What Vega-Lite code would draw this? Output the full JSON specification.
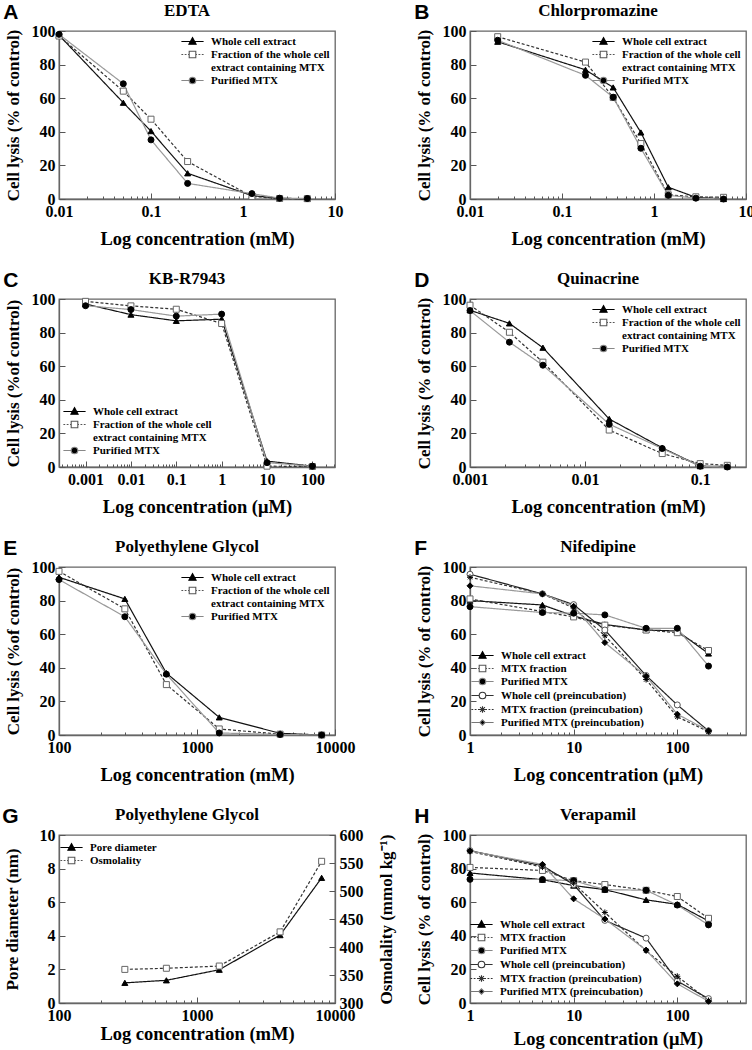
{
"$schema": "https://vega.github.io/schema/vega-lite/v6.json",
"padding": {"left": 2, "top": 1, "right": 2, "bottom": 0},
"datasets": {
 "A": [
  {"conc": 0.01, "value": 97.5, "series": "Whole cell extract"},
  {"conc": 0.05, "value": 57.3, "series": "Whole cell extract"},
  {"conc": 0.1, "value": 40.4, "series": "Whole cell extract"},
  {"conc": 0.25, "value": 15.3, "series": "Whole cell extract"},
  {"conc": 1.25, "value": 2, "series": "Whole cell extract"},
  {"conc": 2.5, "value": 0.4, "series": "Whole cell extract"},
  {"conc": 5, "value": 0.2, "series": "Whole cell extract"},
  {"conc": 0.01, "value": 97, "series": "Fraction of the whole cell extract containing MTX"},
  {"conc": 0.05, "value": 64.2, "series": "Fraction of the whole cell extract containing MTX"},
  {"conc": 0.1, "value": 47.5, "series": "Fraction of the whole cell extract containing MTX"},
  {"conc": 0.25, "value": 22.3, "series": "Fraction of the whole cell extract containing MTX"},
  {"conc": 1.25, "value": 1.5, "series": "Fraction of the whole cell extract containing MTX"},
  {"conc": 2.5, "value": 0.3, "series": "Fraction of the whole cell extract containing MTX"},
  {"conc": 5, "value": 0.2, "series": "Fraction of the whole cell extract containing MTX"},
  {"conc": 0.01, "value": 98, "series": "Purified MTX"},
  {"conc": 0.05, "value": 68.6, "series": "Purified MTX"},
  {"conc": 0.1, "value": 35.2, "series": "Purified MTX"},
  {"conc": 0.25, "value": 9.3, "series": "Purified MTX"},
  {"conc": 1.25, "value": 3.2, "series": "Purified MTX"},
  {"conc": 2.5, "value": 0.5, "series": "Purified MTX"},
  {"conc": 5, "value": 0.3, "series": "Purified MTX"}
 ],
 "B": [
  {"conc": 0.02, "value": 93.6, "series": "Whole cell extract"},
  {"conc": 0.18, "value": 76.9, "series": "Whole cell extract"},
  {"conc": 0.36, "value": 66.4, "series": "Whole cell extract"},
  {"conc": 0.72, "value": 39.6, "series": "Whole cell extract"},
  {"conc": 1.43, "value": 7, "series": "Whole cell extract"},
  {"conc": 2.85, "value": 1, "series": "Whole cell extract"},
  {"conc": 5.7, "value": 0, "series": "Whole cell extract"},
  {"conc": 0.02, "value": 96.6, "series": "Fraction of the whole cell extract containing MTX"},
  {"conc": 0.18, "value": 81.5, "series": "Fraction of the whole cell extract containing MTX"},
  {"conc": 0.36, "value": 60.4, "series": "Fraction of the whole cell extract containing MTX"},
  {"conc": 0.72, "value": 33, "series": "Fraction of the whole cell extract containing MTX"},
  {"conc": 1.43, "value": 2.5, "series": "Fraction of the whole cell extract containing MTX"},
  {"conc": 2.85, "value": 1.3, "series": "Fraction of the whole cell extract containing MTX"},
  {"conc": 5.7, "value": 1, "series": "Fraction of the whole cell extract containing MTX"},
  {"conc": 0.02, "value": 94.5, "series": "Purified MTX"},
  {"conc": 0.18, "value": 73.6, "series": "Purified MTX"},
  {"conc": 0.36, "value": 60.6, "series": "Purified MTX"},
  {"conc": 0.72, "value": 30.2, "series": "Purified MTX"},
  {"conc": 1.43, "value": 2.2, "series": "Purified MTX"},
  {"conc": 2.85, "value": 0.5, "series": "Purified MTX"},
  {"conc": 5.7, "value": 0, "series": "Purified MTX"}
 ],
 "C": [
  {"conc": 0.001, "value": 97, "series": "Whole cell extract"},
  {"conc": 0.01, "value": 90.7, "series": "Whole cell extract"},
  {"conc": 0.1, "value": 87, "series": "Whole cell extract"},
  {"conc": 1, "value": 88, "series": "Whole cell extract"},
  {"conc": 10, "value": 3.5, "series": "Whole cell extract"},
  {"conc": 100, "value": 0.5, "series": "Whole cell extract"},
  {"conc": 0.001, "value": 98.6, "series": "Fraction of the whole cell extract containing MTX"},
  {"conc": 0.01, "value": 95.9, "series": "Fraction of the whole cell extract containing MTX"},
  {"conc": 0.1, "value": 93.9, "series": "Fraction of the whole cell extract containing MTX"},
  {"conc": 1, "value": 85.4, "series": "Fraction of the whole cell extract containing MTX"},
  {"conc": 10, "value": 0.5, "series": "Fraction of the whole cell extract containing MTX"},
  {"conc": 100, "value": 0.3, "series": "Fraction of the whole cell extract containing MTX"},
  {"conc": 0.001, "value": 96, "series": "Purified MTX"},
  {"conc": 0.01, "value": 93.7, "series": "Purified MTX"},
  {"conc": 0.1, "value": 89.8, "series": "Purified MTX"},
  {"conc": 1, "value": 91, "series": "Purified MTX"},
  {"conc": 10, "value": 2.6, "series": "Purified MTX"},
  {"conc": 100, "value": 0.5, "series": "Purified MTX"}
 ],
 "D": [
  {"conc": 0.001, "value": 93.3, "series": "Whole cell extract"},
  {"conc": 0.0022, "value": 85.5, "series": "Whole cell extract"},
  {"conc": 0.0043, "value": 71, "series": "Whole cell extract"},
  {"conc": 0.0162, "value": 28.6, "series": "Whole cell extract"},
  {"conc": 0.0468, "value": 11.4, "series": "Whole cell extract"},
  {"conc": 0.1, "value": 0.5, "series": "Whole cell extract"},
  {"conc": 0.172, "value": 0.3, "series": "Whole cell extract"},
  {"conc": 0.001, "value": 96.3, "series": "Fraction of the whole cell extract containing MTX"},
  {"conc": 0.0022, "value": 80.2, "series": "Fraction of the whole cell extract containing MTX"},
  {"conc": 0.0043, "value": 62.4, "series": "Fraction of the whole cell extract containing MTX"},
  {"conc": 0.0162, "value": 22, "series": "Fraction of the whole cell extract containing MTX"},
  {"conc": 0.0468, "value": 8, "series": "Fraction of the whole cell extract containing MTX"},
  {"conc": 0.1, "value": 2, "series": "Fraction of the whole cell extract containing MTX"},
  {"conc": 0.172, "value": 1, "series": "Fraction of the whole cell extract containing MTX"},
  {"conc": 0.001, "value": 93.1, "series": "Purified MTX"},
  {"conc": 0.0022, "value": 74.3, "series": "Purified MTX"},
  {"conc": 0.0043, "value": 60.6, "series": "Purified MTX"},
  {"conc": 0.0162, "value": 25.5, "series": "Purified MTX"},
  {"conc": 0.0468, "value": 11, "series": "Purified MTX"},
  {"conc": 0.1, "value": 0.5, "series": "Purified MTX"},
  {"conc": 0.172, "value": 0, "series": "Purified MTX"}
 ],
 "E": [
  {"conc": 100, "value": 93.9, "series": "Whole cell extract"},
  {"conc": 300, "value": 81, "series": "Whole cell extract"},
  {"conc": 600, "value": 36.8, "series": "Whole cell extract"},
  {"conc": 1450, "value": 10.5, "series": "Whole cell extract"},
  {"conc": 4000, "value": 1, "series": "Whole cell extract"},
  {"conc": 8000, "value": 0, "series": "Whole cell extract"},
  {"conc": 100, "value": 97.4, "series": "Fraction of the whole cell extract containing MTX"},
  {"conc": 300, "value": 75.1, "series": "Fraction of the whole cell extract containing MTX"},
  {"conc": 600, "value": 30, "series": "Fraction of the whole cell extract containing MTX"},
  {"conc": 1450, "value": 3.6, "series": "Fraction of the whole cell extract containing MTX"},
  {"conc": 4000, "value": 0.5, "series": "Fraction of the whole cell extract containing MTX"},
  {"conc": 8000, "value": 0, "series": "Fraction of the whole cell extract containing MTX"},
  {"conc": 100, "value": 92.5, "series": "Purified MTX"},
  {"conc": 300, "value": 70.4, "series": "Purified MTX"},
  {"conc": 600, "value": 36.2, "series": "Purified MTX"},
  {"conc": 1450, "value": 1.2, "series": "Purified MTX"},
  {"conc": 4000, "value": 0.3, "series": "Purified MTX"},
  {"conc": 8000, "value": 0, "series": "Purified MTX"}
 ],
 "F": [
  {"conc": 1, "value": 80, "series": "Whole cell extract"},
  {"conc": 5, "value": 77.4, "series": "Whole cell extract"},
  {"conc": 10, "value": 70.9, "series": "Whole cell extract"},
  {"conc": 20, "value": 65.8, "series": "Whole cell extract"},
  {"conc": 50, "value": 62.5, "series": "Whole cell extract"},
  {"conc": 100, "value": 61.9, "series": "Whole cell extract"},
  {"conc": 200, "value": 48.5, "series": "Whole cell extract"},
  {"conc": 1, "value": 81, "series": "MTX fraction"},
  {"conc": 5, "value": 73.5, "series": "MTX fraction"},
  {"conc": 10, "value": 70.3, "series": "MTX fraction"},
  {"conc": 20, "value": 65.4, "series": "MTX fraction"},
  {"conc": 50, "value": 62.5, "series": "MTX fraction"},
  {"conc": 100, "value": 60.9, "series": "MTX fraction"},
  {"conc": 200, "value": 50.3, "series": "MTX fraction"},
  {"conc": 1, "value": 76.4, "series": "Purified MTX"},
  {"conc": 5, "value": 72.9, "series": "Purified MTX"},
  {"conc": 10, "value": 72.5, "series": "Purified MTX"},
  {"conc": 20, "value": 71.5, "series": "Purified MTX"},
  {"conc": 50, "value": 63.5, "series": "Purified MTX"},
  {"conc": 100, "value": 63.5, "series": "Purified MTX"},
  {"conc": 200, "value": 41, "series": "Purified MTX"},
  {"conc": 1, "value": 95.7, "series": "Whole cell (preincubation)"},
  {"conc": 5, "value": 84, "series": "Whole cell (preincubation)"},
  {"conc": 10, "value": 77.6, "series": "Whole cell (preincubation)"},
  {"conc": 20, "value": 62.5, "series": "Whole cell (preincubation)"},
  {"conc": 50, "value": 35.4, "series": "Whole cell (preincubation)"},
  {"conc": 100, "value": 17.9, "series": "Whole cell (preincubation)"},
  {"conc": 200, "value": 2.5, "series": "Whole cell (preincubation)"},
  {"conc": 1, "value": 93.9, "series": "MTX fraction (preincubation)"},
  {"conc": 5, "value": 84, "series": "MTX fraction (preincubation)"},
  {"conc": 10, "value": 75.5, "series": "MTX fraction (preincubation)"},
  {"conc": 20, "value": 59.1, "series": "MTX fraction (preincubation)"},
  {"conc": 50, "value": 33, "series": "MTX fraction (preincubation)"},
  {"conc": 100, "value": 10.8, "series": "MTX fraction (preincubation)"},
  {"conc": 200, "value": 2, "series": "MTX fraction (preincubation)"},
  {"conc": 1, "value": 88.8, "series": "Purified MTX (preincubation)"},
  {"conc": 5, "value": 84, "series": "Purified MTX (preincubation)"},
  {"conc": 10, "value": 76.6, "series": "Purified MTX (preincubation)"},
  {"conc": 20, "value": 55, "series": "Purified MTX (preincubation)"},
  {"conc": 50, "value": 35, "series": "Purified MTX (preincubation)"},
  {"conc": 100, "value": 12.4, "series": "Purified MTX (preincubation)"},
  {"conc": 200, "value": 2.5, "series": "Purified MTX (preincubation)"}
 ],
 "G": [
  {"conc": 300, "value": 1.2, "series": "Pore diameter"},
  {"conc": 600, "value": 1.35, "series": "Pore diameter"},
  {"conc": 1450, "value": 1.98, "series": "Pore diameter"},
  {"conc": 4000, "value": 4.04, "series": "Pore diameter"},
  {"conc": 8000, "value": 7.45, "series": "Pore diameter"},
  {"conc": 300, "value": 360, "series": "Osmolality"},
  {"conc": 600, "value": 362, "series": "Osmolality"},
  {"conc": 1450, "value": 366, "series": "Osmolality"},
  {"conc": 4000, "value": 427, "series": "Osmolality"},
  {"conc": 8000, "value": 553, "series": "Osmolality"}
 ],
 "H": [
  {"conc": 1, "value": 77.4, "series": "Whole cell extract"},
  {"conc": 5, "value": 73.4, "series": "Whole cell extract"},
  {"conc": 10, "value": 69.9, "series": "Whole cell extract"},
  {"conc": 20, "value": 67.5, "series": "Whole cell extract"},
  {"conc": 50, "value": 61.4, "series": "Whole cell extract"},
  {"conc": 100, "value": 58.7, "series": "Whole cell extract"},
  {"conc": 200, "value": 48.8, "series": "Whole cell extract"},
  {"conc": 1, "value": 80.7, "series": "MTX fraction"},
  {"conc": 5, "value": 78.9, "series": "MTX fraction"},
  {"conc": 10, "value": 72.8, "series": "MTX fraction"},
  {"conc": 20, "value": 70.5, "series": "MTX fraction"},
  {"conc": 50, "value": 67.1, "series": "MTX fraction"},
  {"conc": 100, "value": 63.4, "series": "MTX fraction"},
  {"conc": 200, "value": 50.4, "series": "MTX fraction"},
  {"conc": 1, "value": 73.6, "series": "Purified MTX"},
  {"conc": 5, "value": 73.5, "series": "Purified MTX"},
  {"conc": 10, "value": 72.8, "series": "Purified MTX"},
  {"conc": 20, "value": 67.5, "series": "Purified MTX"},
  {"conc": 50, "value": 67.1, "series": "Purified MTX"},
  {"conc": 100, "value": 58.3, "series": "Purified MTX"},
  {"conc": 200, "value": 46.5, "series": "Purified MTX"},
  {"conc": 1, "value": 90.7, "series": "Whole cell (preincubation)"},
  {"conc": 5, "value": 81.7, "series": "Whole cell (preincubation)"},
  {"conc": 10, "value": 70.5, "series": "Whole cell (preincubation)"},
  {"conc": 20, "value": 49.2, "series": "Whole cell (preincubation)"},
  {"conc": 50, "value": 38.6, "series": "Whole cell (preincubation)"},
  {"conc": 100, "value": 13, "series": "Whole cell (preincubation)"},
  {"conc": 200, "value": 2.6, "series": "Whole cell (preincubation)"},
  {"conc": 1, "value": 90.2, "series": "MTX fraction (preincubation)"},
  {"conc": 5, "value": 80.9, "series": "MTX fraction (preincubation)"},
  {"conc": 10, "value": 71.3, "series": "MTX fraction (preincubation)"},
  {"conc": 20, "value": 53.9, "series": "MTX fraction (preincubation)"},
  {"conc": 50, "value": 31.1, "series": "MTX fraction (preincubation)"},
  {"conc": 100, "value": 15.9, "series": "MTX fraction (preincubation)"},
  {"conc": 200, "value": 1.5, "series": "MTX fraction (preincubation)"},
  {"conc": 1, "value": 90.5, "series": "Purified MTX (preincubation)"},
  {"conc": 5, "value": 82.5, "series": "Purified MTX (preincubation)"},
  {"conc": 10, "value": 62, "series": "Purified MTX (preincubation)"},
  {"conc": 20, "value": 50, "series": "Purified MTX (preincubation)"},
  {"conc": 50, "value": 31.5, "series": "Purified MTX (preincubation)"},
  {"conc": 100, "value": 11.4, "series": "Purified MTX (preincubation)"},
  {"conc": 200, "value": 1, "series": "Purified MTX (preincubation)"}
 ]
},
"columns": 2,
"spacing": {"row": 20, "column": 19},
"resolve": {"scale": {"x": "independent", "y": "independent", "color": "independent", "strokeDash": "independent", "shape": "independent", "fill": "independent", "stroke": "independent"}, "legend": {"color": "independent", "strokeDash": "independent", "shape": "independent", "fill": "independent", "stroke": "independent"}},
"concat": [
 {"title": {"text": "A", "anchor": "start", "frame": "bounds", "font": "Liberation Sans", "fontSize": 21, "fontWeight": "bold", "offset": -22, "dx": 0},
  "resolve": {"legend": {"shape": "independent", "fill": "independent", "stroke": "independent"}},
  "vconcat": [{
   "title": {"text": "EDTA"}, "width": 276, "height": 168, "data": {"name": "A"},
   "resolve": {"scale": {"shape": "independent", "fill": "independent", "stroke": "independent"}},
   "encoding": {
    "x": {"field": "conc", "type": "quantitative", "scale": {"type": "log", "domain": [0.01, 10], "nice": false},
     "axis": {"title": "Log concentration (mM)", "format": "~g", "values": [0.01,0.02,0.03,0.04,0.05,0.06,0.07,0.08,0.09,0.1,0.2,0.3,0.4,0.5,0.6,0.7,0.8,0.9,1,2,3,4,5,6,7,8,9,10],
      "labelExpr": "abs(log(datum.value)/LN10 - round(log(datum.value)/LN10)) < 0.001 ? datum.label : ''",
      "tickSize": {"condition": {"test": "abs(log(datum.value)/LN10 - round(log(datum.value)/LN10)) < 0.001", "value": -6}, "value": -3}}},
    "y": {"field": "value", "type": "quantitative", "scale": {"domain": [0, 100], "nice": false}, "axis": {"title": "Cell lysis (% of control)", "values": [0,20,40,60,80,100]}}
   },
   "layer": [
    {"mark": {"type": "line", "strokeWidth": 1.2}, "encoding": {
     "color": {"field": "series", "type": "nominal", "scale": {"domain": ["Whole cell extract","Fraction of the whole cell extract containing MTX","Purified MTX"], "range": ["#111","#333","#999"]}, "legend": null},
     "strokeDash": {"field": "series", "type": "nominal", "scale": {"domain": ["Whole cell extract","Fraction of the whole cell extract containing MTX","Purified MTX"], "range": [[1,0],[3,2],[1,0]]}, "legend": null}}},
    {"mark": {"type": "point", "filled": true, "size": 36, "strokeWidth": 1, "opacity": 1}, "encoding": {
     "shape": {"field": "series", "type": "nominal", "scale": {"domain": ["Whole cell extract","Fraction of the whole cell extract containing MTX","Purified MTX"], "range": ["triangle-up","square","circle"]}, "legend": null},
     "fill": {"field": "series", "type": "nominal", "scale": {"domain": ["Whole cell extract","Fraction of the whole cell extract containing MTX","Purified MTX"], "range": ["#000","#fff","#000"]}, "legend": null},
     "stroke": {"field": "series", "type": "nominal", "scale": {"domain": ["Whole cell extract","Fraction of the whole cell extract containing MTX","Purified MTX"], "range": ["#000","#666","#000"]}, "legend": null}}},
    {"mark": {"type": "point", "filled": true, "opacity": 0, "strokeWidth": 1.1}, "encoding": {
     "shape": {"field": "series", "type": "nominal", "scale": {"domain": ["Whole cell extract","Fraction of the whole cell extract containing MTX","Purified MTX"], "range": ["M-3.7,0H3.7M0,-1.3L1.2,0.9L-1.2,0.9Z","M-3.7,0H-3.1M-2.6,0H-2M-1.5,0H-1.1M1.1,0H1.5M2,0H2.6M3.1,0H3.7M-1.1,-1.1H1.1V1.1H-1.1Z","M-3.7,0H-1.1M1.1,0H3.7M1.1,0A1.1,1.1,0,1,1,-1.1,0A1.1,1.1,0,1,1,1.1,0Z"]},
      "legend": {"title": null, "orient": "top-right", "offset": 5, "symbolOpacity": 1, "labelExpr": "datum.label == 'Fraction of the whole cell extract containing MTX' ? ['Fraction of the whole cell', 'extract containing MTX'] : datum.label", "encode": {"labels": {"update": {"lineHeight": {"value": 10.5}}}}}},
     "fill": {"field": "series", "type": "nominal", "scale": {"domain": ["Whole cell extract","Fraction of the whole cell extract containing MTX","Purified MTX"], "range": ["#000","#fff","#000"]}},
     "stroke": {"field": "series", "type": "nominal", "scale": {"domain": ["Whole cell extract","Fraction of the whole cell extract containing MTX","Purified MTX"], "range": ["#000","#555","#888"]}}}}
   ]
  }]
 },
 {"title": {"text": "B", "anchor": "start", "frame": "bounds", "font": "Liberation Sans", "fontSize": 21, "fontWeight": "bold", "offset": -22, "dx": 0},
  "resolve": {"legend": {"shape": "independent", "fill": "independent", "stroke": "independent"}},
  "vconcat": [{
   "title": {"text": "Chlorpromazine"}, "width": 276, "height": 168, "data": {"name": "B"},
   "resolve": {"scale": {"shape": "independent", "fill": "independent", "stroke": "independent"}},
   "encoding": {
    "x": {"field": "conc", "type": "quantitative", "scale": {"type": "log", "domain": [0.01, 10], "nice": false},
     "axis": {"title": "Log concentration (mM)", "format": "~g", "values": [0.01,0.02,0.03,0.04,0.05,0.06,0.07,0.08,0.09,0.1,0.2,0.3,0.4,0.5,0.6,0.7,0.8,0.9,1,2,3,4,5,6,7,8,9,10],
      "labelExpr": "abs(log(datum.value)/LN10 - round(log(datum.value)/LN10)) < 0.001 ? datum.label : ''",
      "tickSize": {"condition": {"test": "abs(log(datum.value)/LN10 - round(log(datum.value)/LN10)) < 0.001", "value": -6}, "value": -3}}},
    "y": {"field": "value", "type": "quantitative", "scale": {"domain": [0, 100], "nice": false}, "axis": {"title": "Cell lysis (% of control)", "values": [0,20,40,60,80,100]}}
   },
   "layer": [
    {"mark": {"type": "line", "strokeWidth": 1.2}, "encoding": {
     "color": {"field": "series", "type": "nominal", "scale": {"domain": ["Whole cell extract","Fraction of the whole cell extract containing MTX","Purified MTX"], "range": ["#111","#333","#999"]}, "legend": null},
     "strokeDash": {"field": "series", "type": "nominal", "scale": {"domain": ["Whole cell extract","Fraction of the whole cell extract containing MTX","Purified MTX"], "range": [[1,0],[3,2],[1,0]]}, "legend": null}}},
    {"mark": {"type": "point", "filled": true, "size": 36, "strokeWidth": 1, "opacity": 1}, "encoding": {
     "shape": {"field": "series", "type": "nominal", "scale": {"domain": ["Whole cell extract","Fraction of the whole cell extract containing MTX","Purified MTX"], "range": ["triangle-up","square","circle"]}, "legend": null},
     "fill": {"field": "series", "type": "nominal", "scale": {"domain": ["Whole cell extract","Fraction of the whole cell extract containing MTX","Purified MTX"], "range": ["#000","#fff","#000"]}, "legend": null},
     "stroke": {"field": "series", "type": "nominal", "scale": {"domain": ["Whole cell extract","Fraction of the whole cell extract containing MTX","Purified MTX"], "range": ["#000","#666","#000"]}, "legend": null}}},
    {"mark": {"type": "point", "filled": true, "opacity": 0, "strokeWidth": 1.1}, "encoding": {
     "shape": {"field": "series", "type": "nominal", "scale": {"domain": ["Whole cell extract","Fraction of the whole cell extract containing MTX","Purified MTX"], "range": ["M-3.7,0H3.7M0,-1.3L1.2,0.9L-1.2,0.9Z","M-3.7,0H-3.1M-2.6,0H-2M-1.5,0H-1.1M1.1,0H1.5M2,0H2.6M3.1,0H3.7M-1.1,-1.1H1.1V1.1H-1.1Z","M-3.7,0H-1.1M1.1,0H3.7M1.1,0A1.1,1.1,0,1,1,-1.1,0A1.1,1.1,0,1,1,1.1,0Z"]},
      "legend": {"title": null, "orient": "top-right", "offset": 5, "symbolOpacity": 1, "labelExpr": "datum.label == 'Fraction of the whole cell extract containing MTX' ? ['Fraction of the whole cell', 'extract containing MTX'] : datum.label", "encode": {"labels": {"update": {"lineHeight": {"value": 10.5}}}}}},
     "fill": {"field": "series", "type": "nominal", "scale": {"domain": ["Whole cell extract","Fraction of the whole cell extract containing MTX","Purified MTX"], "range": ["#000","#fff","#000"]}},
     "stroke": {"field": "series", "type": "nominal", "scale": {"domain": ["Whole cell extract","Fraction of the whole cell extract containing MTX","Purified MTX"], "range": ["#000","#555","#888"]}}}}
   ]
  }]
 },
 {"title": {"text": "C", "anchor": "start", "frame": "bounds", "font": "Liberation Sans", "fontSize": 21, "fontWeight": "bold", "offset": -22, "dx": 0},
  "resolve": {"legend": {"shape": "independent", "fill": "independent", "stroke": "independent"}},
  "vconcat": [{
   "title": {"text": "KB-R7943"}, "width": 276, "height": 168, "data": {"name": "C"},
   "resolve": {"scale": {"shape": "independent", "fill": "independent", "stroke": "independent"}},
   "encoding": {
    "x": {"field": "conc", "type": "quantitative", "scale": {"type": "log", "domain": [0.00026, 315], "nice": false},
     "axis": {"title": "Log concentration (μM)", "format": "~g", "values": [0.0003,0.0004,0.0005,0.0006,0.0007,0.0008,0.0009,0.001,0.002,0.003,0.004,0.005,0.006,0.007,0.008,0.009,0.01,0.02,0.03,0.04,0.05,0.06,0.07,0.08,0.09,0.1,0.2,0.3,0.4,0.5,0.6,0.7,0.8,0.9,1,2,3,4,5,6,7,8,9,10,20,30,40,50,60,70,80,90,100,200,300],
      "labelExpr": "abs(log(datum.value)/LN10 - round(log(datum.value)/LN10)) < 0.001 ? datum.label : ''",
      "tickSize": {"condition": {"test": "abs(log(datum.value)/LN10 - round(log(datum.value)/LN10)) < 0.001", "value": -6}, "value": -3}}},
    "y": {"field": "value", "type": "quantitative", "scale": {"domain": [0, 100], "nice": false}, "axis": {"title": "Cell lysis (%of control)", "values": [0,20,40,60,80,100]}}
   },
   "layer": [
    {"mark": {"type": "line", "strokeWidth": 1.2}, "encoding": {
     "color": {"field": "series", "type": "nominal", "scale": {"domain": ["Whole cell extract","Fraction of the whole cell extract containing MTX","Purified MTX"], "range": ["#111","#333","#999"]}, "legend": null},
     "strokeDash": {"field": "series", "type": "nominal", "scale": {"domain": ["Whole cell extract","Fraction of the whole cell extract containing MTX","Purified MTX"], "range": [[1,0],[3,2],[1,0]]}, "legend": null}}},
    {"mark": {"type": "point", "filled": true, "size": 36, "strokeWidth": 1, "opacity": 1}, "encoding": {
     "shape": {"field": "series", "type": "nominal", "scale": {"domain": ["Whole cell extract","Fraction of the whole cell extract containing MTX","Purified MTX"], "range": ["triangle-up","square","circle"]}, "legend": null},
     "fill": {"field": "series", "type": "nominal", "scale": {"domain": ["Whole cell extract","Fraction of the whole cell extract containing MTX","Purified MTX"], "range": ["#000","#fff","#000"]}, "legend": null},
     "stroke": {"field": "series", "type": "nominal", "scale": {"domain": ["Whole cell extract","Fraction of the whole cell extract containing MTX","Purified MTX"], "range": ["#000","#666","#000"]}, "legend": null}}},
    {"mark": {"type": "point", "filled": true, "opacity": 0, "strokeWidth": 1.1}, "encoding": {
     "shape": {"field": "series", "type": "nominal", "scale": {"domain": ["Whole cell extract","Fraction of the whole cell extract containing MTX","Purified MTX"], "range": ["M-3.7,0H3.7M0,-1.3L1.2,0.9L-1.2,0.9Z","M-3.7,0H-3.1M-2.6,0H-2M-1.5,0H-1.1M1.1,0H1.5M2,0H2.6M3.1,0H3.7M-1.1,-1.1H1.1V1.1H-1.1Z","M-3.7,0H-1.1M1.1,0H3.7M1.1,0A1.1,1.1,0,1,1,-1.1,0A1.1,1.1,0,1,1,1.1,0Z"]},
      "legend": {"title": null, "orient": "bottom-left", "offset": 10, "symbolOpacity": 1, "labelExpr": "datum.label == 'Fraction of the whole cell extract containing MTX' ? ['Fraction of the whole cell', 'extract containing MTX'] : datum.label", "encode": {"labels": {"update": {"lineHeight": {"value": 10.5}}}}}},
     "fill": {"field": "series", "type": "nominal", "scale": {"domain": ["Whole cell extract","Fraction of the whole cell extract containing MTX","Purified MTX"], "range": ["#000","#fff","#000"]}},
     "stroke": {"field": "series", "type": "nominal", "scale": {"domain": ["Whole cell extract","Fraction of the whole cell extract containing MTX","Purified MTX"], "range": ["#000","#555","#888"]}}}}
   ]
  }]
 },
 {"title": {"text": "D", "anchor": "start", "frame": "bounds", "font": "Liberation Sans", "fontSize": 21, "fontWeight": "bold", "offset": -22, "dx": 0},
  "resolve": {"legend": {"shape": "independent", "fill": "independent", "stroke": "independent"}},
  "vconcat": [{
   "title": {"text": "Quinacrine"}, "width": 276, "height": 168, "data": {"name": "D"},
   "resolve": {"scale": {"shape": "independent", "fill": "independent", "stroke": "independent"}},
   "encoding": {
    "x": {"field": "conc", "type": "quantitative", "scale": {"type": "log", "domain": [0.001, 0.25], "nice": false},
     "axis": {"title": "Log concentration (mM)", "format": "~g", "values": [0.001,0.002,0.003,0.004,0.005,0.006,0.007,0.008,0.009,0.01,0.02,0.03,0.04,0.05,0.06,0.07,0.08,0.09,0.1,0.2],
      "labelExpr": "abs(log(datum.value)/LN10 - round(log(datum.value)/LN10)) < 0.001 ? datum.label : ''",
      "tickSize": {"condition": {"test": "abs(log(datum.value)/LN10 - round(log(datum.value)/LN10)) < 0.001", "value": -6}, "value": -3}}},
    "y": {"field": "value", "type": "quantitative", "scale": {"domain": [0, 100], "nice": false}, "axis": {"title": "Cell lysis (% of control)", "values": [0,20,40,60,80,100]}}
   },
   "layer": [
    {"mark": {"type": "line", "strokeWidth": 1.2}, "encoding": {
     "color": {"field": "series", "type": "nominal", "scale": {"domain": ["Whole cell extract","Fraction of the whole cell extract containing MTX","Purified MTX"], "range": ["#111","#333","#999"]}, "legend": null},
     "strokeDash": {"field": "series", "type": "nominal", "scale": {"domain": ["Whole cell extract","Fraction of the whole cell extract containing MTX","Purified MTX"], "range": [[1,0],[3,2],[1,0]]}, "legend": null}}},
    {"mark": {"type": "point", "filled": true, "size": 36, "strokeWidth": 1, "opacity": 1}, "encoding": {
     "shape": {"field": "series", "type": "nominal", "scale": {"domain": ["Whole cell extract","Fraction of the whole cell extract containing MTX","Purified MTX"], "range": ["triangle-up","square","circle"]}, "legend": null},
     "fill": {"field": "series", "type": "nominal", "scale": {"domain": ["Whole cell extract","Fraction of the whole cell extract containing MTX","Purified MTX"], "range": ["#000","#fff","#000"]}, "legend": null},
     "stroke": {"field": "series", "type": "nominal", "scale": {"domain": ["Whole cell extract","Fraction of the whole cell extract containing MTX","Purified MTX"], "range": ["#000","#666","#000"]}, "legend": null}}},
    {"mark": {"type": "point", "filled": true, "opacity": 0, "strokeWidth": 1.1}, "encoding": {
     "shape": {"field": "series", "type": "nominal", "scale": {"domain": ["Whole cell extract","Fraction of the whole cell extract containing MTX","Purified MTX"], "range": ["M-3.7,0H3.7M0,-1.3L1.2,0.9L-1.2,0.9Z","M-3.7,0H-3.1M-2.6,0H-2M-1.5,0H-1.1M1.1,0H1.5M2,0H2.6M3.1,0H3.7M-1.1,-1.1H1.1V1.1H-1.1Z","M-3.7,0H-1.1M1.1,0H3.7M1.1,0A1.1,1.1,0,1,1,-1.1,0A1.1,1.1,0,1,1,1.1,0Z"]},
      "legend": {"title": null, "orient": "top-right", "offset": 5, "symbolOpacity": 1, "labelExpr": "datum.label == 'Fraction of the whole cell extract containing MTX' ? ['Fraction of the whole cell', 'extract containing MTX'] : datum.label", "encode": {"labels": {"update": {"lineHeight": {"value": 10.5}}}}}},
     "fill": {"field": "series", "type": "nominal", "scale": {"domain": ["Whole cell extract","Fraction of the whole cell extract containing MTX","Purified MTX"], "range": ["#000","#fff","#000"]}},
     "stroke": {"field": "series", "type": "nominal", "scale": {"domain": ["Whole cell extract","Fraction of the whole cell extract containing MTX","Purified MTX"], "range": ["#000","#555","#888"]}}}}
   ]
  }]
 },
 {"title": {"text": "E", "anchor": "start", "frame": "bounds", "font": "Liberation Sans", "fontSize": 21, "fontWeight": "bold", "offset": -22, "dx": 0},
  "resolve": {"legend": {"shape": "independent", "fill": "independent", "stroke": "independent"}},
  "vconcat": [{
   "title": {"text": "Polyethylene Glycol"}, "width": 276, "height": 168, "data": {"name": "E"},
   "resolve": {"scale": {"shape": "independent", "fill": "independent", "stroke": "independent"}},
   "encoding": {
    "x": {"field": "conc", "type": "quantitative", "scale": {"type": "log", "domain": [100, 10000], "nice": false},
     "axis": {"title": "Log concentration (mM)", "format": "~g", "values": [100,200,300,400,500,600,700,800,900,1000,2000,3000,4000,5000,6000,7000,8000,9000,10000],
      "labelExpr": "abs(log(datum.value)/LN10 - round(log(datum.value)/LN10)) < 0.001 ? datum.label : ''",
      "tickSize": {"condition": {"test": "abs(log(datum.value)/LN10 - round(log(datum.value)/LN10)) < 0.001", "value": -6}, "value": -3}}},
    "y": {"field": "value", "type": "quantitative", "scale": {"domain": [0, 100], "nice": false}, "axis": {"title": "Cell lysis (%of control)", "values": [0,20,40,60,80,100]}}
   },
   "layer": [
    {"mark": {"type": "line", "strokeWidth": 1.2}, "encoding": {
     "color": {"field": "series", "type": "nominal", "scale": {"domain": ["Whole cell extract","Fraction of the whole cell extract containing MTX","Purified MTX"], "range": ["#111","#333","#999"]}, "legend": null},
     "strokeDash": {"field": "series", "type": "nominal", "scale": {"domain": ["Whole cell extract","Fraction of the whole cell extract containing MTX","Purified MTX"], "range": [[1,0],[3,2],[1,0]]}, "legend": null}}},
    {"mark": {"type": "point", "filled": true, "size": 36, "strokeWidth": 1, "opacity": 1}, "encoding": {
     "shape": {"field": "series", "type": "nominal", "scale": {"domain": ["Whole cell extract","Fraction of the whole cell extract containing MTX","Purified MTX"], "range": ["triangle-up","square","circle"]}, "legend": null},
     "fill": {"field": "series", "type": "nominal", "scale": {"domain": ["Whole cell extract","Fraction of the whole cell extract containing MTX","Purified MTX"], "range": ["#000","#fff","#000"]}, "legend": null},
     "stroke": {"field": "series", "type": "nominal", "scale": {"domain": ["Whole cell extract","Fraction of the whole cell extract containing MTX","Purified MTX"], "range": ["#000","#666","#000"]}, "legend": null}}},
    {"mark": {"type": "point", "filled": true, "opacity": 0, "strokeWidth": 1.1}, "encoding": {
     "shape": {"field": "series", "type": "nominal", "scale": {"domain": ["Whole cell extract","Fraction of the whole cell extract containing MTX","Purified MTX"], "range": ["M-3.7,0H3.7M0,-1.3L1.2,0.9L-1.2,0.9Z","M-3.7,0H-3.1M-2.6,0H-2M-1.5,0H-1.1M1.1,0H1.5M2,0H2.6M3.1,0H3.7M-1.1,-1.1H1.1V1.1H-1.1Z","M-3.7,0H-1.1M1.1,0H3.7M1.1,0A1.1,1.1,0,1,1,-1.1,0A1.1,1.1,0,1,1,1.1,0Z"]},
      "legend": {"title": null, "orient": "top-right", "offset": 5, "symbolOpacity": 1, "labelExpr": "datum.label == 'Fraction of the whole cell extract containing MTX' ? ['Fraction of the whole cell', 'extract containing MTX'] : datum.label", "encode": {"labels": {"update": {"lineHeight": {"value": 10.5}}}}}},
     "fill": {"field": "series", "type": "nominal", "scale": {"domain": ["Whole cell extract","Fraction of the whole cell extract containing MTX","Purified MTX"], "range": ["#000","#fff","#000"]}},
     "stroke": {"field": "series", "type": "nominal", "scale": {"domain": ["Whole cell extract","Fraction of the whole cell extract containing MTX","Purified MTX"], "range": ["#000","#555","#888"]}}}}
   ]
  }]
 },
 {"title": {"text": "F", "anchor": "start", "frame": "bounds", "font": "Liberation Sans", "fontSize": 21, "fontWeight": "bold", "offset": -22, "dx": 0},
  "resolve": {"legend": {"shape": "independent", "fill": "independent", "stroke": "independent"}},
  "vconcat": [{
   "title": {"text": "Nifedipine"}, "width": 276, "height": 168, "data": {"name": "F"},
   "resolve": {"scale": {"shape": "independent", "fill": "independent", "stroke": "independent"}},
   "encoding": {
    "x": {"field": "conc", "type": "quantitative", "scale": {"type": "log", "domain": [1, 460], "nice": false},
     "axis": {"title": "Log concentration (μM)", "format": "~g", "values": [1,2,3,4,5,6,7,8,9,10,20,30,40,50,60,70,80,90,100,200,300,400],
      "labelExpr": "abs(log(datum.value)/LN10 - round(log(datum.value)/LN10)) < 0.001 ? datum.label : ''",
      "tickSize": {"condition": {"test": "abs(log(datum.value)/LN10 - round(log(datum.value)/LN10)) < 0.001", "value": -6}, "value": -3}}},
    "y": {"field": "value", "type": "quantitative", "scale": {"domain": [0, 100], "nice": false}, "axis": {"title": "Cell lysis (% of control)", "values": [0,20,40,60,80,100]}}
   },
   "layer": [
    {"mark": {"type": "line", "strokeWidth": 1.2}, "encoding": {
     "color": {"field": "series", "type": "nominal", "scale": {"domain": ["Whole cell extract","MTX fraction","Purified MTX","Whole cell (preincubation)","MTX fraction (preincubation)","Purified MTX (preincubation)"], "range": ["#111","#333","#999","#222","#333","#999"]}, "legend": null},
     "strokeDash": {"field": "series", "type": "nominal", "scale": {"domain": ["Whole cell extract","MTX fraction","Purified MTX","Whole cell (preincubation)","MTX fraction (preincubation)","Purified MTX (preincubation)"], "range": [[1,0],[3,2],[1,0],[1,0],[3,2],[1,0]]}, "legend": null}}},
    {"mark": {"type": "point", "filled": true, "size": 36, "strokeWidth": 1, "opacity": 1}, "encoding": {
     "shape": {"field": "series", "type": "nominal", "scale": {"domain": ["Whole cell extract","MTX fraction","Purified MTX","Whole cell (preincubation)","MTX fraction (preincubation)","Purified MTX (preincubation)"], "range": ["triangle-up","square","circle","circle","M-1,0H1M0,-1V1M-0.7,-0.7L0.7,0.7M-0.7,0.7L0.7,-0.7","diamond"]}, "legend": null},
     "fill": {"field": "series", "type": "nominal", "scale": {"domain": ["Whole cell extract","MTX fraction","Purified MTX","Whole cell (preincubation)","MTX fraction (preincubation)","Purified MTX (preincubation)"], "range": ["#000","#fff","#000","#fff","#000","#000"]}, "legend": null},
     "stroke": {"field": "series", "type": "nominal", "scale": {"domain": ["Whole cell extract","MTX fraction","Purified MTX","Whole cell (preincubation)","MTX fraction (preincubation)","Purified MTX (preincubation)"], "range": ["#000","#666","#000","#555","#000","#000"]}, "legend": null}}},
    {"mark": {"type": "point", "filled": true, "opacity": 0, "strokeWidth": 1.1}, "encoding": {
     "shape": {"field": "series", "type": "nominal", "scale": {"domain": ["Whole cell extract","MTX fraction","Purified MTX","Whole cell (preincubation)","MTX fraction (preincubation)","Purified MTX (preincubation)"], "range": ["M-3.7,0H3.7M0,-1.3L1.2,0.9L-1.2,0.9Z","M-3.7,0H-3.1M-2.6,0H-2M-1.5,0H-1.1M1.1,0H1.5M2,0H2.6M3.1,0H3.7M-1.1,-1.1H1.1V1.1H-1.1Z","M-3.7,0H-1.1M1.1,0H3.7M1.1,0A1.1,1.1,0,1,1,-1.1,0A1.1,1.1,0,1,1,1.1,0Z","M-3.7,0H-1.1M1.1,0H3.7M1.1,0A1.1,1.1,0,1,1,-1.1,0A1.1,1.1,0,1,1,1.1,0Z","M-3.7,0H-3.1M-2.6,0H-2M-1.5,0H-1.1M1.1,0H1.5M2,0H2.6M3.1,0H3.7M-1.1,0H1.1M0,-1.1V1.1M-0.8,-0.8L0.8,0.8M-0.8,0.8L0.8,-0.8","M-3.7,0H-0.9M0.9,0H3.7M0,-0.9L0.9,0L0,0.9L-0.9,0Z"]},
      "legend": {"title": null, "orient": "bottom-left", "offset": 7, "symbolOpacity": 1}},
     "fill": {"field": "series", "type": "nominal", "scale": {"domain": ["Whole cell extract","MTX fraction","Purified MTX","Whole cell (preincubation)","MTX fraction (preincubation)","Purified MTX (preincubation)"], "range": ["#000","#fff","#000","#fff","#000","#000"]}},
     "stroke": {"field": "series", "type": "nominal", "scale": {"domain": ["Whole cell extract","MTX fraction","Purified MTX","Whole cell (preincubation)","MTX fraction (preincubation)","Purified MTX (preincubation)"], "range": ["#000","#555","#888","#333","#333","#777"]}}}}
   ]
  }]
 },
 {"title": {"text": "G", "anchor": "start", "frame": "bounds", "font": "Liberation Sans", "fontSize": 21, "fontWeight": "bold", "offset": -22, "dx": 0},
  "resolve": {"legend": {"shape": "independent", "fill": "independent", "stroke": "independent"}},
  "vconcat": [{
   "title": {"text": "Polyethylene Glycol"}, "width": 276, "height": 168, "data": {"name": "G"},
   "encoding": {
    "x": {"field": "conc", "type": "quantitative", "scale": {"type": "log", "domain": [100, 10000], "nice": false},
     "axis": {"title": "Log concentration (mM)", "titlePadding": -2, "format": "~g", "values": [100,200,300,400,500,600,700,800,900,1000,2000,3000,4000,5000,6000,7000,8000,9000,10000],
      "labelExpr": "abs(log(datum.value)/LN10 - round(log(datum.value)/LN10)) < 0.001 ? datum.label : ''",
      "tickSize": {"condition": {"test": "abs(log(datum.value)/LN10 - round(log(datum.value)/LN10)) < 0.001", "value": -6}, "value": -3}}}
   },
   "resolve": {"scale": {"y": "independent", "shape": "independent", "fill": "independent", "stroke": "independent"}},
   "layer": [
    {"transform": [{"filter": "datum.series == 'Pore diameter'"}],
     "encoding": {"y": {"field": "value", "type": "quantitative", "scale": {"domain": [0, 10], "nice": false}, "axis": {"title": "Pore diameter (nm)", "values": [0,2,4,6,8,10], "titlePadding": 18}}},
     "layer": [
      {"mark": {"type": "line", "strokeWidth": 1.2}, "encoding": {
       "color": {"field": "series", "type": "nominal", "scale": {"domain": ["Pore diameter","Osmolality"], "range": ["#111","#333"]}, "legend": null},
       "strokeDash": {"field": "series", "type": "nominal", "scale": {"domain": ["Pore diameter","Osmolality"], "range": [[1,0],[3,2]]}, "legend": null}}},
      {"mark": {"type": "point", "filled": true, "size": 36, "strokeWidth": 1, "opacity": 1}, "encoding": {
       "shape": {"field": "series", "type": "nominal", "scale": {"domain": ["Pore diameter","Osmolality"], "range": ["triangle-up","square"]}, "legend": null},
       "fill": {"field": "series", "type": "nominal", "scale": {"domain": ["Pore diameter","Osmolality"], "range": ["#000","#fff"]}, "legend": null},
       "stroke": {"field": "series", "type": "nominal", "scale": {"domain": ["Pore diameter","Osmolality"], "range": ["#000","#666"]}, "legend": null}}}
     ]},
    {"transform": [{"filter": "datum.series == 'Osmolality'"}],
     "encoding": {"y": {"field": "value", "type": "quantitative", "scale": {"domain": [300, 600], "nice": false}, "axis": {"title": "Osmolality (mmol kg⁻¹)", "orient": "right", "values": [300,350,400,450,500,550,600], "titleAngle": 270, "titleBaseline": "top", "titlePadding": 15}}},
     "layer": [
      {"mark": {"type": "line", "strokeWidth": 1.2}, "encoding": {
       "color": {"field": "series", "type": "nominal", "scale": {"domain": ["Pore diameter","Osmolality"], "range": ["#111","#333"]}, "legend": null},
       "strokeDash": {"field": "series", "type": "nominal", "scale": {"domain": ["Pore diameter","Osmolality"], "range": [[1,0],[3,2]]}, "legend": null}}},
      {"mark": {"type": "point", "filled": true, "size": 36, "strokeWidth": 1, "opacity": 1}, "encoding": {
       "shape": {"field": "series", "type": "nominal", "scale": {"domain": ["Pore diameter","Osmolality"], "range": ["triangle-up","square"]}, "legend": null},
       "fill": {"field": "series", "type": "nominal", "scale": {"domain": ["Pore diameter","Osmolality"], "range": ["#000","#fff"]}, "legend": null},
       "stroke": {"field": "series", "type": "nominal", "scale": {"domain": ["Pore diameter","Osmolality"], "range": ["#000","#666"]}, "legend": null}}}
     ]},
    {"mark": {"type": "point", "filled": true, "opacity": 0, "strokeWidth": 1.1}, "encoding": {
     "y": {"field": "value", "type": "quantitative", "axis": null},
     "shape": {"field": "series", "type": "nominal", "scale": {"domain": ["Pore diameter","Osmolality"], "range": ["M-3.7,0H3.7M0,-1.3L1.2,0.9L-1.2,0.9Z","M-3.7,0H-3.1M-2.6,0H-2M-1.5,0H-1.1M1.1,0H1.5M2,0H2.6M3.1,0H3.7M-1.1,-1.1H1.1V1.1H-1.1Z"]},
      "legend": {"title": null, "orient": "top-left", "offset": 7, "symbolOpacity": 1}},
     "fill": {"field": "series", "type": "nominal", "scale": {"domain": ["Pore diameter","Osmolality"], "range": ["#000","#fff"]}},
     "stroke": {"field": "series", "type": "nominal", "scale": {"domain": ["Pore diameter","Osmolality"], "range": ["#000","#555"]}}}}
   ]
  }]
 },
 {"title": {"text": "H", "anchor": "start", "frame": "bounds", "font": "Liberation Sans", "fontSize": 21, "fontWeight": "bold", "offset": -22, "dx": 0},
  "resolve": {"legend": {"shape": "independent", "fill": "independent", "stroke": "independent"}},
  "vconcat": [{
   "title": {"text": "Verapamil"}, "width": 276, "height": 168, "data": {"name": "H"},
   "resolve": {"scale": {"shape": "independent", "fill": "independent", "stroke": "independent"}},
   "encoding": {
    "x": {"field": "conc", "type": "quantitative", "scale": {"type": "log", "domain": [1, 460], "nice": false},
     "axis": {"title": "Log concentration (μM)", "titlePadding": 3, "format": "~g", "values": [1,2,3,4,5,6,7,8,9,10,20,30,40,50,60,70,80,90,100,200,300,400],
      "labelExpr": "abs(log(datum.value)/LN10 - round(log(datum.value)/LN10)) < 0.001 ? datum.label : ''",
      "tickSize": {"condition": {"test": "abs(log(datum.value)/LN10 - round(log(datum.value)/LN10)) < 0.001", "value": -6}, "value": -3}}},
    "y": {"field": "value", "type": "quantitative", "scale": {"domain": [0, 100], "nice": false}, "axis": {"title": "Cell lysis (% of control)", "values": [0,20,40,60,80,100]}}
   },
   "layer": [
    {"mark": {"type": "line", "strokeWidth": 1.2}, "encoding": {
     "color": {"field": "series", "type": "nominal", "scale": {"domain": ["Whole cell extract","MTX fraction","Purified MTX","Whole cell (preincubation)","MTX fraction (preincubation)","Purified MTX (preincubation)"], "range": ["#111","#333","#999","#222","#333","#999"]}, "legend": null},
     "strokeDash": {"field": "series", "type": "nominal", "scale": {"domain": ["Whole cell extract","MTX fraction","Purified MTX","Whole cell (preincubation)","MTX fraction (preincubation)","Purified MTX (preincubation)"], "range": [[1,0],[3,2],[1,0],[1,0],[3,2],[1,0]]}, "legend": null}}},
    {"mark": {"type": "point", "filled": true, "size": 36, "strokeWidth": 1, "opacity": 1}, "encoding": {
     "shape": {"field": "series", "type": "nominal", "scale": {"domain": ["Whole cell extract","MTX fraction","Purified MTX","Whole cell (preincubation)","MTX fraction (preincubation)","Purified MTX (preincubation)"], "range": ["triangle-up","square","circle","circle","M-1,0H1M0,-1V1M-0.7,-0.7L0.7,0.7M-0.7,0.7L0.7,-0.7","diamond"]}, "legend": null},
     "fill": {"field": "series", "type": "nominal", "scale": {"domain": ["Whole cell extract","MTX fraction","Purified MTX","Whole cell (preincubation)","MTX fraction (preincubation)","Purified MTX (preincubation)"], "range": ["#000","#fff","#000","#fff","#000","#000"]}, "legend": null},
     "stroke": {"field": "series", "type": "nominal", "scale": {"domain": ["Whole cell extract","MTX fraction","Purified MTX","Whole cell (preincubation)","MTX fraction (preincubation)","Purified MTX (preincubation)"], "range": ["#000","#666","#000","#555","#000","#000"]}, "legend": null}}},
    {"mark": {"type": "point", "filled": true, "opacity": 0, "strokeWidth": 1.1}, "encoding": {
     "shape": {"field": "series", "type": "nominal", "scale": {"domain": ["Whole cell extract","MTX fraction","Purified MTX","Whole cell (preincubation)","MTX fraction (preincubation)","Purified MTX (preincubation)"], "range": ["M-3.7,0H3.7M0,-1.3L1.2,0.9L-1.2,0.9Z","M-3.7,0H-3.1M-2.6,0H-2M-1.5,0H-1.1M1.1,0H1.5M2,0H2.6M3.1,0H3.7M-1.1,-1.1H1.1V1.1H-1.1Z","M-3.7,0H-1.1M1.1,0H3.7M1.1,0A1.1,1.1,0,1,1,-1.1,0A1.1,1.1,0,1,1,1.1,0Z","M-3.7,0H-1.1M1.1,0H3.7M1.1,0A1.1,1.1,0,1,1,-1.1,0A1.1,1.1,0,1,1,1.1,0Z","M-3.7,0H-3.1M-2.6,0H-2M-1.5,0H-1.1M1.1,0H1.5M2,0H2.6M3.1,0H3.7M-1.1,0H1.1M0,-1.1V1.1M-0.8,-0.8L0.8,0.8M-0.8,0.8L0.8,-0.8","M-3.7,0H-0.9M0.9,0H3.7M0,-0.9L0.9,0L0,0.9L-0.9,0Z"]},
      "legend": {"title": null, "orient": "bottom-left", "offset": 6, "symbolOpacity": 1}},
     "fill": {"field": "series", "type": "nominal", "scale": {"domain": ["Whole cell extract","MTX fraction","Purified MTX","Whole cell (preincubation)","MTX fraction (preincubation)","Purified MTX (preincubation)"], "range": ["#000","#fff","#000","#fff","#000","#000"]}},
     "stroke": {"field": "series", "type": "nominal", "scale": {"domain": ["Whole cell extract","MTX fraction","Purified MTX","Whole cell (preincubation)","MTX fraction (preincubation)","Purified MTX (preincubation)"], "range": ["#000","#555","#888","#333","#333","#777"]}}}}
   ]
  }]
 }
],
"config": {
 "font": "Liberation Serif",
 "view": {"stroke": "#666", "strokeWidth": 1.3},
 "axis": {"labelFont": "Liberation Serif", "labelFontSize": 16, "labelFontWeight": "bold", "labelColor": "#000", "titleFont": "Liberation Serif", "titleFontWeight": "bold", "titleColor": "#000", "domainColor": "#666", "domainWidth": 1.3, "tickColor": "#555", "tickWidth": 1, "grid": false, "labelFlush": false, "labelOverlap": false, "labelPadding": 10},
 "axisX": {"titleFontSize": 18.5, "titlePadding": 7},
 "axisY": {"titleFontSize": 17, "titlePadding": 9, "tickSize": -6},
 "title": {"font": "Liberation Serif", "fontSize": 17, "fontWeight": "bold", "color": "#000", "offset": 3, "frame": "group", "dx": -10},
 "legend": {"labelFont": "Liberation Serif", "labelFontSize": 11, "labelFontWeight": "bold", "labelColor": "#000", "symbolSize": 36, "symbolOffset": 0, "labelOffset": 13, "rowPadding": 1, "padding": 0, "symbolStrokeWidth": 1.1}
}
}
